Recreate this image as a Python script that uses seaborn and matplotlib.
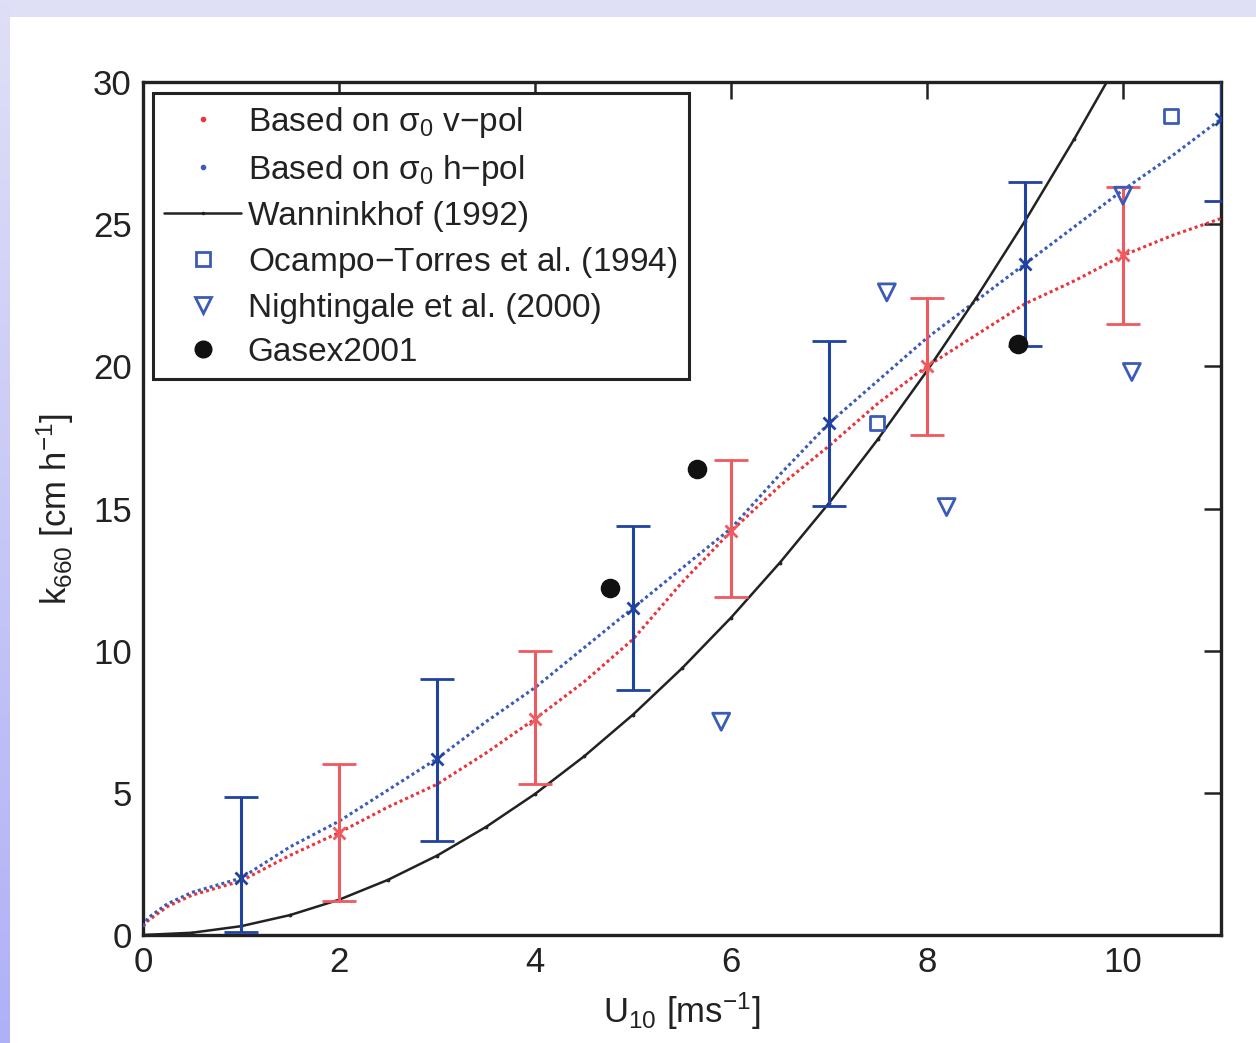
import numpy as np
import pandas as pd
import matplotlib
matplotlib.use("Agg")
import matplotlib.pyplot as plt
from matplotlib.lines import Line2D
import seaborn as sns

# ---------------- data ----------------
curve_x = [0.0, 0.05, 0.25, 0.5, 1.0, 1.5, 2.0, 2.5, 3.0, 3.5, 4.0, 4.5, 5.0,
           5.5, 6.0, 6.5, 7.0, 7.5, 8.0, 8.5, 9.0, 9.5, 10.0, 10.5, 11.0]
vpol_y = [0.3, 0.5, 1.0, 1.4, 1.9, 2.8, 3.6, 4.5, 5.3, 6.4, 7.6, 8.9, 10.4,
          12.4, 14.2, 15.8, 17.2, 18.7, 20.0, 21.1, 22.2, 23.0, 23.9, 24.6, 25.2]
hpol_y = [0.3, 0.6, 1.1, 1.5, 2.0, 3.1, 4.0, 5.1, 6.2, 7.5, 8.7, 10.1, 11.5,
          12.9, 14.3, 16.2, 18.0, 19.5, 21.0, 22.3, 23.6, 24.9, 26.2, 27.4, 28.7]

# error bars (v-pol at even winds, h-pol at odd winds)
vpol_err_x = [2, 4, 6, 8, 10]
vpol_err_y = [3.6, 7.6, 14.2, 20.0, 23.9]
vpol_err_lo = [1.2, 5.3, 11.9, 17.6, 21.5]
vpol_err_hi = [6.0, 10.0, 16.7, 22.4, 26.3]

hpol_err_x = [1, 3, 5, 7, 9, 11]
hpol_err_y = [2.0, 6.2, 11.5, 18.0, 23.6, 28.7]
hpol_err_lo = [0.1, 3.3, 8.6, 15.1, 20.7, 25.8]
hpol_err_hi = [4.85, 9.0, 14.4, 20.9, 26.5, 31.6]

wann_x = [0.0, 0.5, 1.0, 1.5, 2.0, 2.5, 3.0, 3.5, 4.0, 4.5, 5.0, 5.5, 6.0,
          6.5, 7.0, 7.5, 8.0, 8.5, 9.0, 9.5, 10.0]
wann_y = [0.0, 0.08, 0.31, 0.70, 1.24, 1.94, 2.79, 3.80, 4.96, 6.28, 7.75,
          9.38, 11.16, 13.10, 15.19, 17.44, 19.84, 22.40, 25.11, 27.98, 31.0]

ocampo_x = [7.49, 10.49]
ocampo_y = [18.0, 28.8]

night_x = [5.9, 7.59, 8.2, 10.0, 10.09]
night_y = [7.5, 22.6, 15.05, 26.0, 19.8]

gasex_x = [4.77, 5.65, 8.93]
gasex_y = [12.2, 16.4, 20.8]

x_ticks = [0, 2, 4, 6, 8, 10]
y_ticks = [0, 5, 10, 15, 20, 25, 30]

# ---------------- style ----------------
sns.set_theme(style="white")
plt.rcParams['font.family'] = ['Liberation Sans', 'DejaVu Sans']
plt.rcParams['mathtext.default'] = 'regular'

RED = "#e8343a"
RED_EB = "#ee5a60"
BLUE = "#2143a0"
BLUE_L = "#3a5bb8"

W, H = 1256, 1043
fig = plt.figure(figsize=(W / 100, H / 100), dpi=100)

# slide-style lavender frame (top strip and left gradient strip)
bg = np.ones((H, W, 3))
top_c = np.array([0.875, 0.878, 0.965])
bot_c = np.array([0.69, 0.69, 0.97])
bg[:17, :, :] = top_c
t = np.linspace(0, 1, H)[:, None]
bg[:, :10, :] = (top_c * (1 - t) + bot_c * t)[:, None, :]
fig.figimage(bg, xo=0, yo=0, origin='upper', zorder=-10)

ax = fig.add_axes([143 / W, 1 - 935 / H, (1221 - 143) / W, (935 - 82) / H])
ax.set_zorder(2)
ax.set_facecolor("white")

# curves
df_c = pd.DataFrame({"U": curve_x, "v": vpol_y, "h": hpol_y})
sns.lineplot(data=df_c, x="U", y="v", ax=ax, color=RED, lw=2.2,
             linestyle=(0, (1, 1)), zorder=3)
sns.lineplot(data=df_c, x="U", y="h", ax=ax, color=BLUE_L, lw=2.2,
             linestyle=(0, (1, 1)), zorder=3)

df_w = pd.DataFrame({"U": wann_x, "k": wann_y})
sns.lineplot(data=df_w, x="U", y="k", ax=ax, color="#222222", lw=1.8,
             marker='.', markersize=4, markeredgecolor="#222222", zorder=3)

# error bars
ve = np.array(vpol_err_y)
ax.errorbar(vpol_err_x, vpol_err_y,
            yerr=[ve - np.array(vpol_err_lo), np.array(vpol_err_hi) - ve],
            fmt='x', color=RED_EB, ecolor=RED_EB, elinewidth=2.2, capsize=12,
            capthick=2.2, markersize=8, mew=2, zorder=4)
he = np.array(hpol_err_y)
ax.errorbar(hpol_err_x, hpol_err_y,
            yerr=[he - np.array(hpol_err_lo), np.array(hpol_err_hi) - he],
            fmt='x', color=BLUE, ecolor=BLUE, elinewidth=2.2, capsize=12,
            capthick=2.2, markersize=8, mew=2, zorder=4)

# points
sns.scatterplot(x=ocampo_x, y=ocampo_y, ax=ax, marker='s', s=110,
                facecolor='none', edgecolor=BLUE_L, linewidth=2, zorder=5)
sns.scatterplot(x=night_x, y=night_y, ax=ax, marker='v', s=150,
                facecolor='none', edgecolor=BLUE_L, linewidth=2, zorder=5)
sns.scatterplot(x=gasex_x, y=gasex_y, ax=ax, marker='o', s=170,
                color="#111111", edgecolor="#111111", zorder=5)

# axes
ax.set_xlim(0, 11)
ax.set_ylim(0, 30)
ax.set_xticks(x_ticks)
ax.set_yticks(y_ticks)
ax.tick_params(direction='in', length=12, width=1.8, top=True, right=True,
               labelsize=25, colors='#222222', pad=8)
for s in ax.spines.values():
    s.set_color('#222222')
    s.set_linewidth(2.4)

ax.set_xlabel(r"U$_{10}$ [ms$^{-1}$]", fontsize=25, color='#222222', labelpad=8)
ax.set_ylabel(r"k$_{660}$ [cm h$^{-1}$]", fontsize=25, color='#222222', labelpad=12)

# legend
handles = [
    Line2D([], [], ls='none', marker='.', color=RED, markersize=6),
    Line2D([], [], ls='none', marker='.', color=BLUE_L, markersize=6),
    Line2D([], [], color='#222222', lw=1.8, marker='.', markersize=3),
    Line2D([], [], ls='none', marker='s', mfc='none', mec=BLUE_L, mew=2, markersize=10),
    Line2D([], [], ls='none', marker='v', mfc='none', mec=BLUE_L, mew=2, markersize=11),
    Line2D([], [], ls='none', marker='o', color='#111111', markersize=12),
]
labels = [r"Based on $\sigma_0$ v$-$pol", r"Based on $\sigma_0$ h$-$pol",
          "Wanninkhof (1992)", "Ocampo$-$Torres et al. (1994)",
          "Nightingale et al. (2000)", "Gasex2001"]
leg = ax.legend(handles, labels, loc='upper left', bbox_to_anchor=(0.009, 0.987),
                fontsize=24, frameon=True, fancybox=False, framealpha=1,
                edgecolor='#222222', handlelength=2.3, handletextpad=0.2,
                borderpad=0.35, labelspacing=0.39, borderaxespad=0)
leg.get_frame().set_linewidth(2.2)
for tx in leg.get_texts():
    tx.set_color('#222222')

fig.savefig("out.png", dpi=100, facecolor='white')
